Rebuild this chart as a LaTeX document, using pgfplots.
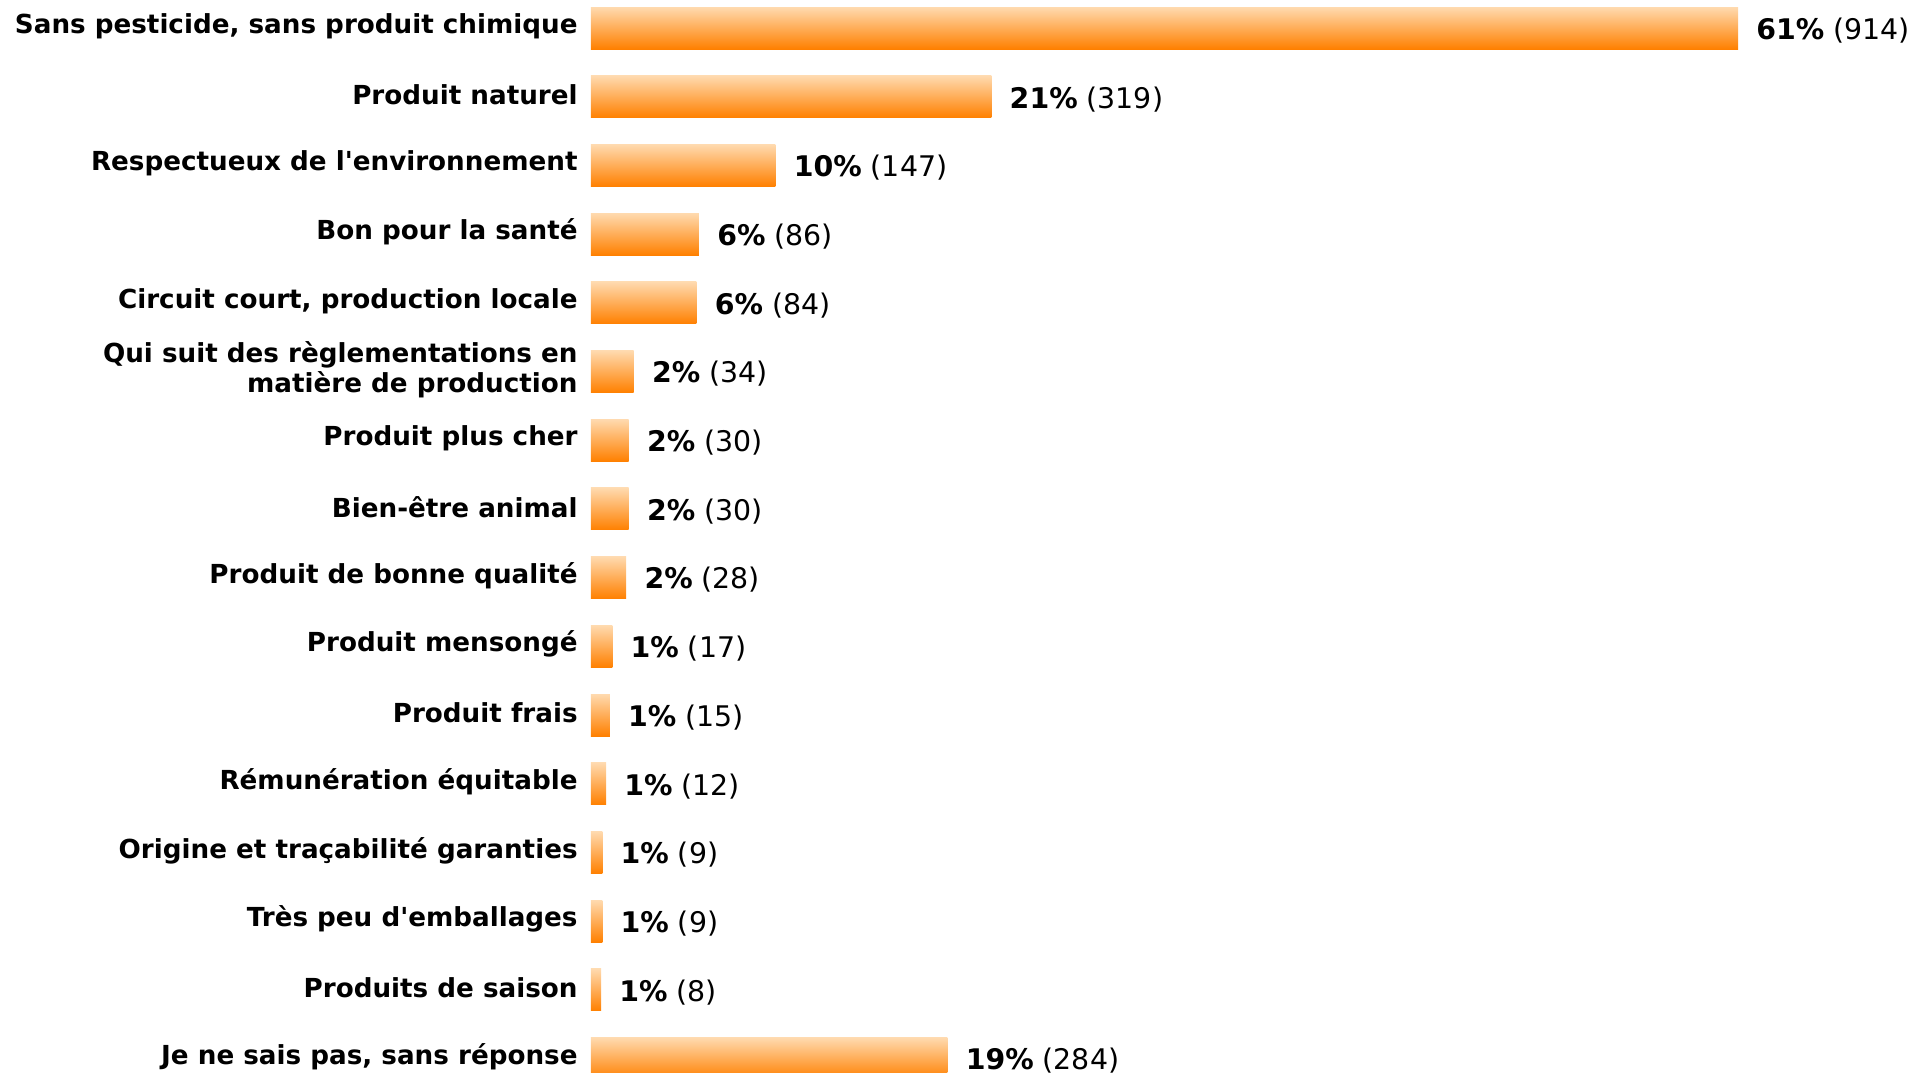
\documentclass[border=0pt]{standalone}
\usepackage{pgfplots}
\pgfplotsset{compat=1.18}
\usepackage{fontspec}
\setmainfont{DejaVu Sans}
\definecolor{bartop}{RGB}{255,218,175}
\definecolor{barbot}{RGB}{255,128,0}
\newcommand{\obar}[3]{%
  \addplot[draw=none, top color=bartop, bottom color=barbot,
    nodes near coords={\textbf{#3\%} (#1)}] coordinates {(#1,#2)};}
\begin{document}
\begin{tikzpicture}
\begin{axis}[
  x=0.6275pt, y=34.35pt,
  y dir=reverse,
  xmin=0, xmax=1055,
  ymin=-0.4076, ymax=15.197,
  enlargelimits=false,
  axis line style={draw=none},
  xtick=\empty,
  ytick={0,...,15},
  major tick length=0pt,
  yticklabels={
    {Sans pesticide, sans produit chimique},
    {Produit naturel},
    {Respectueux de l\textquotesingle environnement},
    {Bon pour la santé},
    {Circuit court, production locale},
    {Qui suit des règlementations en\\matière de production},
    {Produit plus cher},
    {Bien-être animal},
    {Produit de bonne qualité},
    {Produit mensongé},
    {Produit frais},
    {Rémunération équitable},
    {Origine et traçabilité garanties},
    {Très peu d\textquotesingle emballages},
    {Produits de saison},
    {Je ne sais pas, sans réponse}},
  yticklabel style={font=\fontsize{13.1}{14.8}\selectfont\bfseries, align=right, inner sep=0pt, xshift=-6.5pt, yshift=1pt},
  xbar,
  bar width=21pt,
  bar shift=0pt,
  nodes near coords style={anchor=west, inner sep=0pt, xshift=9pt, yshift=-1.2pt, font=\fontsize{14.2}{16}\selectfont, text=black},
]
\obar{914}{0}{61}
\obar{319}{1}{21}
\obar{147}{2}{10}
\obar{86}{3}{6}
\obar{84}{4}{6}
\obar{34}{5}{2}
\obar{30}{6}{2}
\obar{30}{7}{2}
\obar{28}{8}{2}
\obar{17}{9}{1}
\obar{15}{10}{1}
\obar{12}{11}{1}
\obar{9}{12}{1}
\obar{9}{13}{1}
\obar{8}{14}{1}
\obar{284}{15}{19}
\coordinate (TL) at (axis cs:0,-0.4076);
\coordinate (BR) at (axis cs:1055,15.197);
\end{axis}
\pgfresetboundingbox
\path[use as bounding box] ([xshift=-295.5pt]TL) rectangle (BR);
\end{tikzpicture}
\end{document}
